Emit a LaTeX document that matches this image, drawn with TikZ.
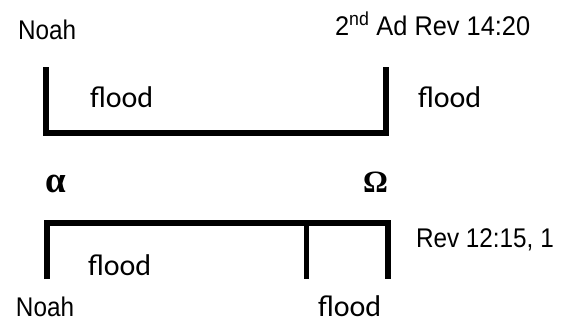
\documentclass[tikz,border=0pt]{standalone}
\usepackage{fontspec}
\newfontfamily\narrowsans[FakeStretch=0.9]{Liberation Sans}
\newfontfamily\narrowwide[FakeStretch=0.94]{Liberation Sans}
\newfontfamily\calib{Carlito}
\newfontfamily\greekserif{Liberation Serif}
\begin{document}
\begin{tikzpicture}[x=1pt,y=-1pt,
  lbl/.style={anchor=base west,inner sep=0pt,outer sep=0pt},
  nar/.style={lbl,font=\narrowsans\fontsize{27}{32}\selectfont},
  narw/.style={lbl,font=\narrowwide\fontsize{27}{32}\selectfont},
  cal/.style={lbl,font=\calib\fontsize{30}{36}\selectfont},
  grk/.style={lbl,font=\greekserif\bfseries\fontsize{31}{36}\selectfont},
  grkbig/.style={lbl,font=\greekserif\bfseries\fontsize{37}{40}\selectfont},
  bracket/.style={line width=5.5pt,miter limit=10}]
\useasboundingbox (0,0) rectangle (561,322);
% top bracket
\draw[bracket] (46,67) -- (46,133) -- (386,133) -- (386,67);
% bottom bracket
\draw[bracket] (47,279) -- (47,223) -- (388,223) -- (388,279);
\draw[bracket] (306.5,223) -- (306.5,279);
% labels
\node[nar] (noahtop) at (18,39) {Noah};
\node[narw] (adtop) at (335,35) {2\textsuperscript{nd} Ad Rev 14:20};
\node[cal] (floodin) at (90,107) {flood};
\node[cal] (floodright) at (418,107) {flood};
\node[grkbig] (alpha) at (45,192) {α};
\node[grk] (omega) at (363,192) {Ω};
\node[nar] (rev) at (416,247) {Rev 12:15, 1};
\node[cal] (floodlow) at (88,275) {flood};
\node[nar] (noahbot) at (16,316.5) {Noah};
\node[cal] (floodbot) at (318,316.5) {flood};
\end{tikzpicture}
\end{document}
